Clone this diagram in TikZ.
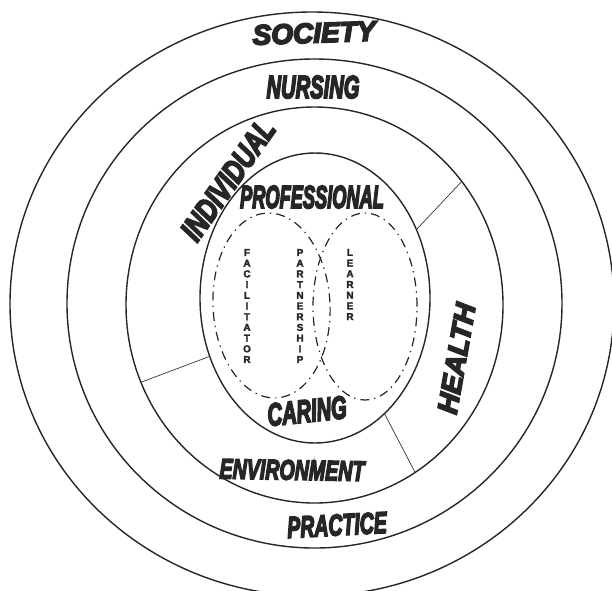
\documentclass[tikz,border=0pt]{standalone}
\usepackage{fontspec}
\newfontface\heavy[FakeBold=6]{Liberation Sans Bold Italic}
\newfontface\spelled[FakeBold=2.5]{Liberation Sans Bold}
\usetikzlibrary{shapes.geometric}

\begin{document}
\begin{tikzpicture}[x=1pt,y=-1pt,
    ring/.style={draw=black!85, ellipse, line width=1.4pt, inner sep=0pt, outer sep=0pt},
    team/.style={draw=black!85, ellipse, line width=1.2pt, inner sep=0pt, outer sep=0pt,
      dash pattern=on 9pt off 5pt on 1.3pt off 5pt},
    word/.style={text=black!85, inner sep=0pt, font=\heavy\fontsize{32}{32}\selectfont},
    spelt/.style={text=black!85, inner sep=0pt, align=center, font=\spelled\fontsize{10}{10.7}\selectfont},
    spoke/.style={draw=black!80, line width=0.7pt}]
  \useasboundingbox (0,0) rectangle (612,590);

  % rings, outside in
  \node (society) [ring, minimum width=604pt, minimum height=584pt] at (312,304) {};
  \node (nursing) [ring, minimum width=495pt, minimum height=489pt] at (314.5,303.5) {};
  \node (person) [ring, minimum width=377pt, minimum height=396pt] at (314.5,305) {};
  \node (core) [ring, minimum width=230pt, minimum height=290pt] at (315,298) {};

  % the two partners
  \node (fac) [team, rotate=3, minimum width=117pt, minimum height=185pt] at (271.5,305.5) {};
  \node (lea) [team, minimum width=104pt, minimum height=187pt] at (365,306.5) {};

  \draw [spoke] (core.34) -- (person.40);
  \draw [spoke] (core.209) -- (person.204);
  \draw [spoke] (core.301) -- (person.301);

  \node (soc) [word, rotate=2, font=\heavy\fontsize{28}{28}\selectfont] at (314,33) {SOCIETY};
  \node (nur) [word] at (313,87) {\scalebox{0.63}[1]{NURSING}};
  \node (ind) [word, rotate=55] at (228,180) {\scalebox{0.76}[1]{INDIVIDUAL}};
  \node (pro) [word] at (312,197) {\scalebox{0.57}[1]{PROFESSIONAL}};
  \node (hea) [word, rotate=80, font=\heavy\fontsize{28}{28}\selectfont] at (456.5,358.5) {HEALTH};
  \node (car) [word, rotate=6] at (307,411) {\scalebox{0.63}[1]{CARING}};
  \node (env) [word, rotate=-1, font=\heavy\fontsize{28}{28}\selectfont] at (292,470) {\scalebox{0.7}[1]{ENVIRONMENT}};
  \node (pra) [word, rotate=3, font=\heavy\fontsize{30}{30}\selectfont] at (337,525) {\scalebox{0.65}[1]{PRACTICE}};

  \node (facl) [spelt] at (247,306) {F\\A\\C\\I\\L\\I\\T\\A\\T\\O\\R};
  \node (part) [spelt] at (300,306) {P\\A\\R\\T\\N\\E\\R\\S\\H\\I\\P};
  \node (lear) [spelt] at (350,284.5) {L\\E\\A\\R\\N\\E\\R};
\end{tikzpicture}
\end{document}
